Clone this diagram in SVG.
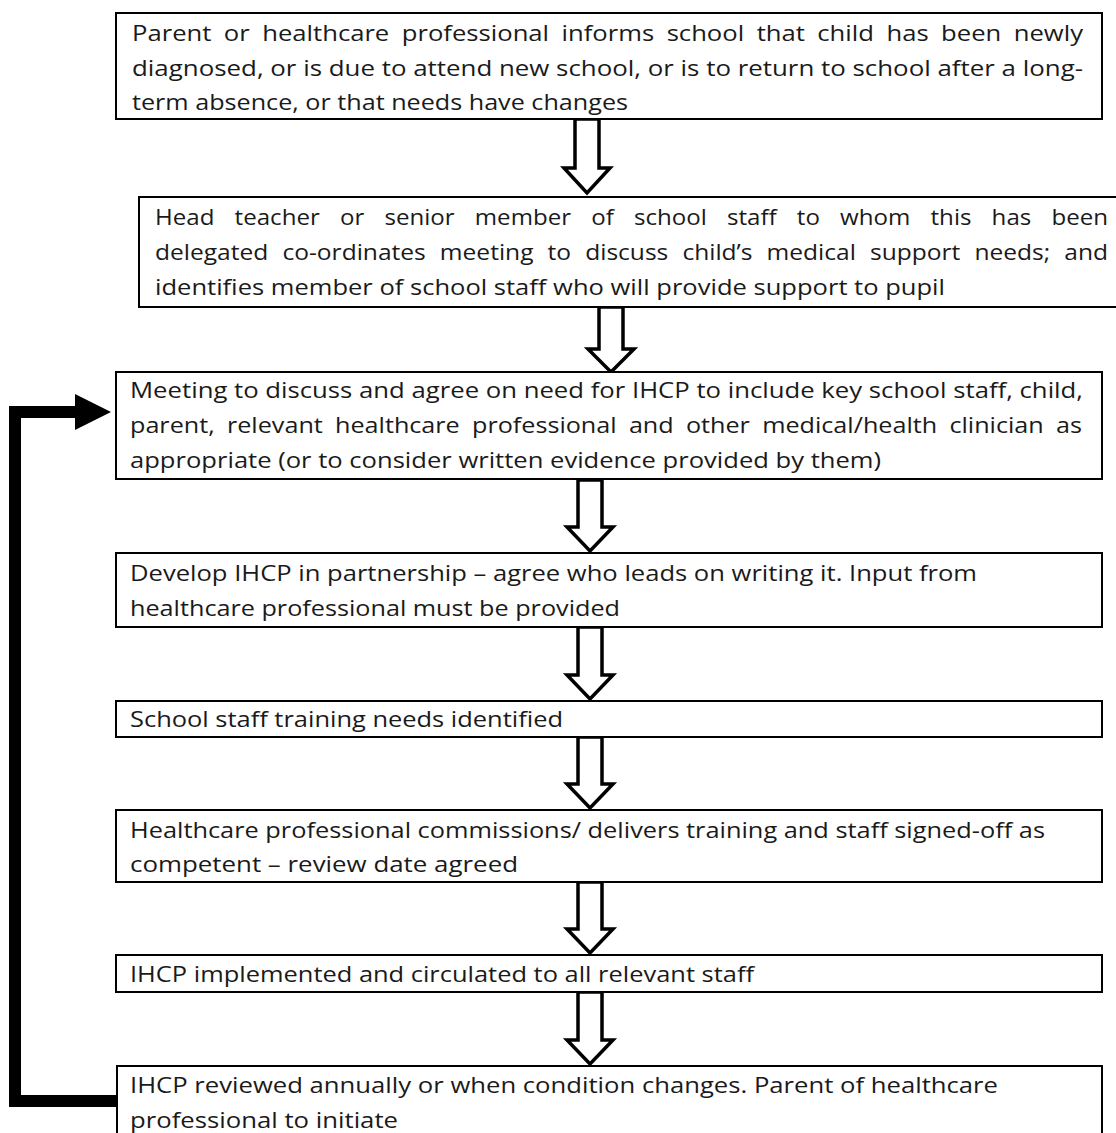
<svg xmlns="http://www.w3.org/2000/svg" width="1116" height="1133" viewBox="0 0 1116 1133">
<style>
.box{fill:#fff;stroke:#000;stroke-width:2}
.t{font-family:"Open Sans","Noto Sans","Liberation Sans",sans-serif;font-size:22px;fill:#1a1a1a}
.blk{fill:#fff;stroke:#000;stroke-width:3.5;stroke-linejoin:miter;stroke-miterlimit:10}
</style>
<rect width="1116" height="1133" fill="#fff"/>
<g id="connectors">
<path class="blk" d="M575,119 H599 V168 H610 L587,193 L564,168 H575 Z"/>
<path class="blk" d="M599,307 H623 V349 H634 L611,372 L588,349 H599 Z"/>
<path class="blk" d="M578,480 H602 V527 H613 L590,551 L567,527 H578 Z"/>
<path class="blk" d="M578,627 H602 V675 H613 L590,699 L567,675 H578 Z"/>
<path class="blk" d="M578,737 H602 V784 H613 L590,808 L567,784 H578 Z"/>
<path class="blk" d="M578,882 H602 V929 H613 L590,953 L567,929 H578 Z"/>
<path class="blk" d="M578,992 H602 V1040 H613 L590,1064 L567,1040 H578 Z"/>
<path d="M117,1101 H15 V412 H78" fill="none" stroke="#000" stroke-width="12" stroke-linejoin="miter"/>
<polygon points="75,394 111,412 75,430" fill="#000"/>
</g>
<g id="n1">
<rect class="box" x="116" y="13" width="986" height="106"/>
<text class="t" x="132" y="41" word-spacing="5" textLength="951" lengthAdjust="spacingAndGlyphs">Parent or healthcare professional informs school that child has been newly</text>
<text class="t" x="132" y="76" textLength="951" lengthAdjust="spacingAndGlyphs">diagnosed, or is due to attend new school, or is to return to school after a long-</text>
<text class="t" x="132" y="110" textLength="496" lengthAdjust="spacingAndGlyphs">term absence, or that needs have changes</text>
</g>
<g id="n2">
<rect class="box" x="139" y="197" width="990" height="110"/>
<text class="t" x="155" y="225" word-spacing="12.7" textLength="953" lengthAdjust="spacingAndGlyphs">Head teacher or senior member of school staff to whom this has been</text>
<text class="t" x="155" y="260" word-spacing="6.9" textLength="953" lengthAdjust="spacingAndGlyphs">delegated co-ordinates meeting to discuss child’s medical support needs; and</text>
<text class="t" x="155" y="295" textLength="790" lengthAdjust="spacingAndGlyphs">identifies member of school staff who will provide support to pupil</text>
</g>
<g id="n3">
<rect class="box" x="116" y="372" width="986" height="107"/>
<text class="t" x="130" y="398" textLength="953" lengthAdjust="spacingAndGlyphs">Meeting to discuss and agree on need for IHCP to include key school staff, child,</text>
<text class="t" x="130" y="433" word-spacing="5" textLength="952" lengthAdjust="spacingAndGlyphs">parent, relevant healthcare professional and other medical/health clinician as</text>
<text class="t" x="130" y="468" textLength="751" lengthAdjust="spacingAndGlyphs">appropriate (or to consider written evidence provided by them)</text>
</g>
<g id="n4">
<rect class="box" x="116" y="553" width="986" height="74"/>
<text class="t" x="130" y="581" textLength="847" lengthAdjust="spacingAndGlyphs">Develop IHCP in partnership – agree who leads on writing it. Input from</text>
<text class="t" x="130" y="616" textLength="490" lengthAdjust="spacingAndGlyphs">healthcare professional must be provided</text>
</g>
<g id="n5">
<rect class="box" x="116" y="701" width="986" height="36"/>
<text class="t" x="130" y="727" textLength="433" lengthAdjust="spacingAndGlyphs">School staff training needs identified</text>
</g>
<g id="n6">
<rect class="box" x="116" y="810" width="986" height="72"/>
<text class="t" x="130" y="838" textLength="915" lengthAdjust="spacingAndGlyphs">Healthcare professional commissions/ delivers training and staff signed-off as</text>
<text class="t" x="130" y="872" textLength="388" lengthAdjust="spacingAndGlyphs">competent – review date agreed</text>
</g>
<g id="n7">
<rect class="box" x="116" y="955" width="986" height="37"/>
<text class="t" x="130" y="982" textLength="624" lengthAdjust="spacingAndGlyphs">IHCP implemented and circulated to all relevant staff</text>
</g>
<g id="n8">
<rect class="box" x="117" y="1066" width="985" height="100"/>
<text class="t" x="130" y="1093" textLength="868" lengthAdjust="spacingAndGlyphs">IHCP reviewed annually or when condition changes. Parent of healthcare</text>
<text class="t" x="130" y="1128" textLength="268" lengthAdjust="spacingAndGlyphs">professional to initiate</text>
</g>
</svg>
